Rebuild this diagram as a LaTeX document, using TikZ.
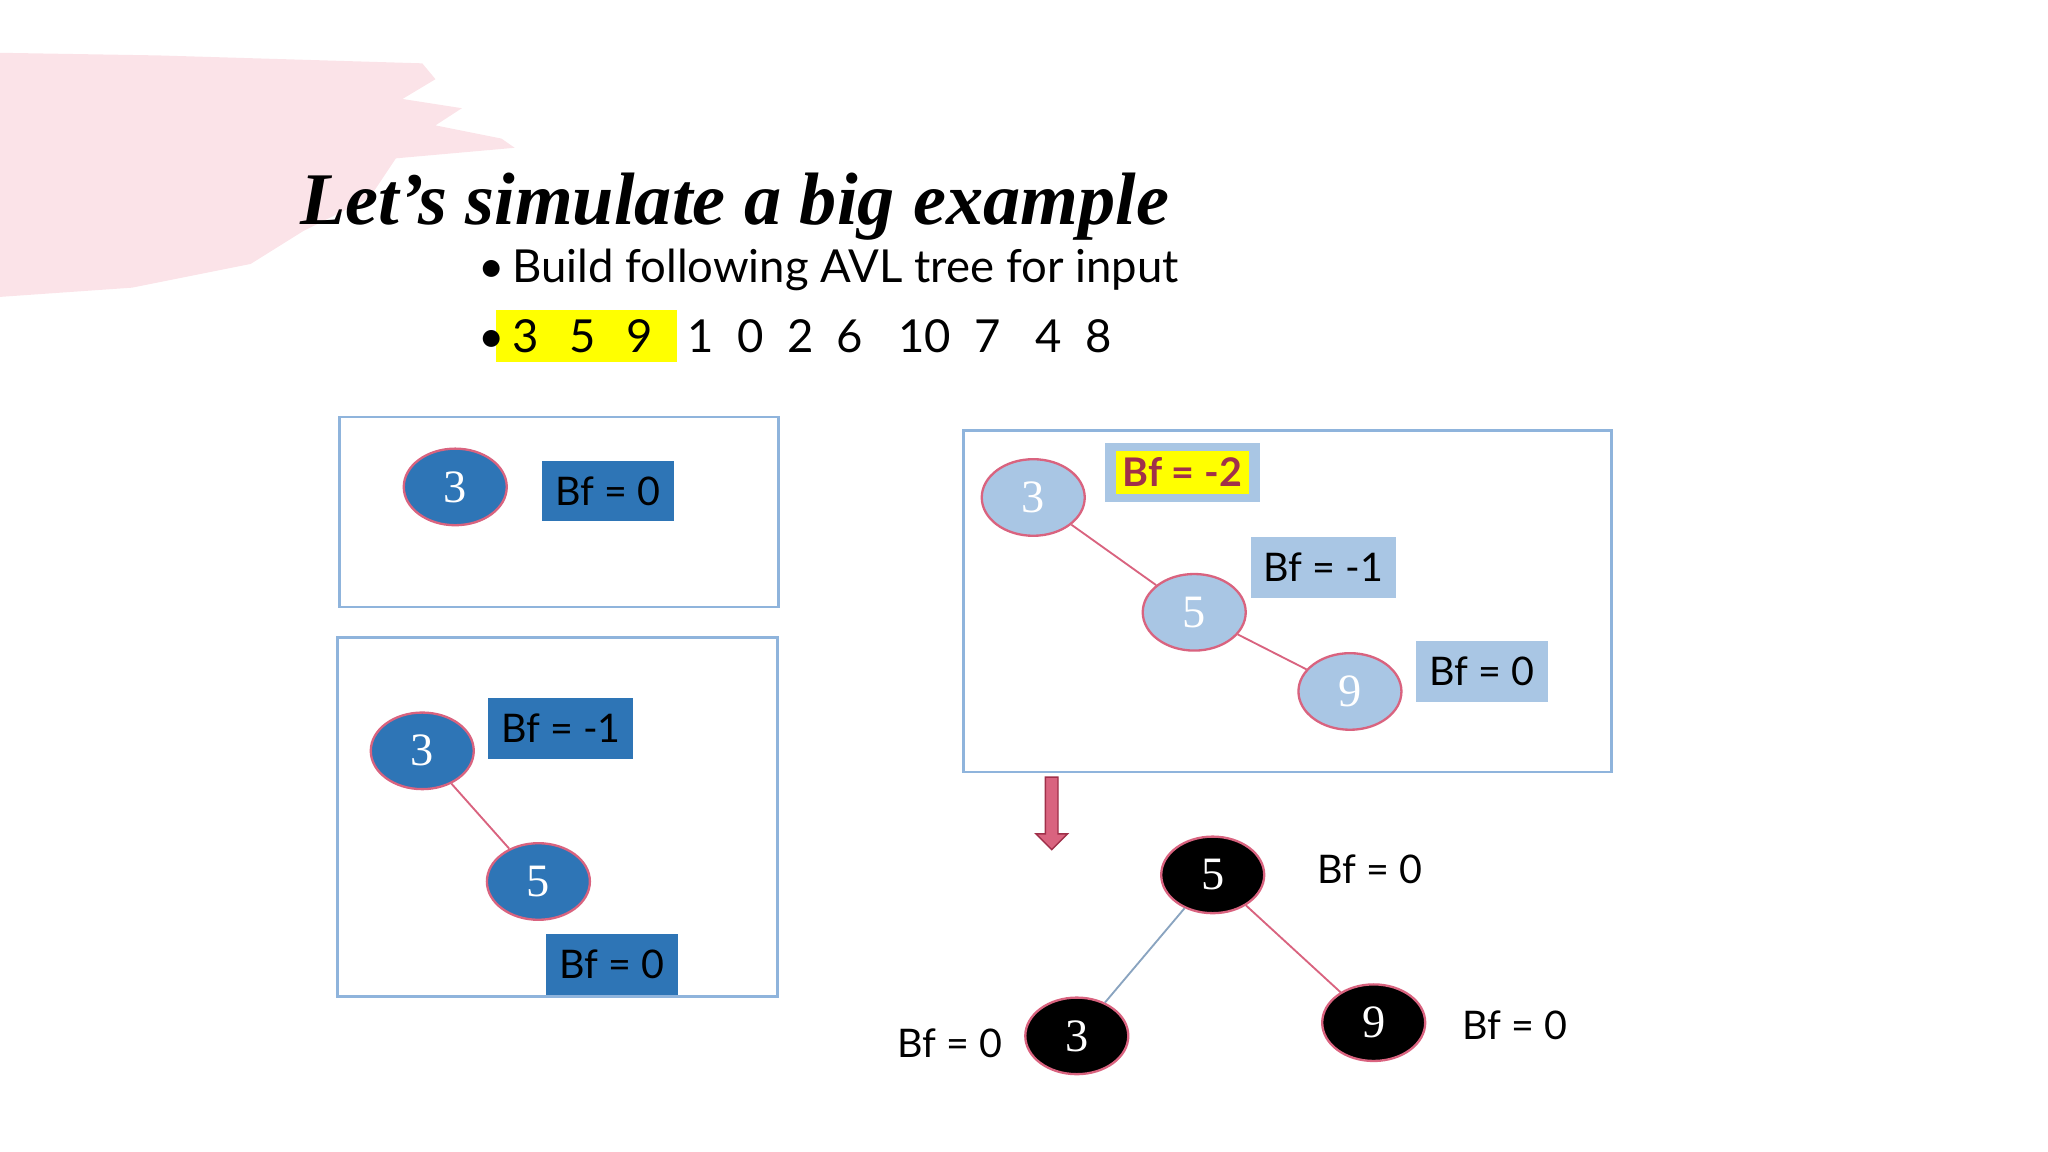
\documentclass[tikz,border=0pt]{standalone}
\usepackage{fontspec}
\setmainfont{Liberation Serif}
\newfontfamily\gothic{Lato}
\usetikzlibrary{shapes.arrows,shapes.geometric}
\definecolor{pinkbg}{HTML}{FBE3E8}
\definecolor{midblue}{HTML}{2E75B6}
\definecolor{lightblue}{HTML}{A9C6E4}
\definecolor{boxline}{HTML}{8FB4DC}
\definecolor{edgepink}{HTML}{D9637F}
\definecolor{hl}{HTML}{FFFF00}
\definecolor{bfred}{HTML}{A0304A}
\tikzset{
  frame/.style={draw=boxline, line width=0.6pt},
  nd/.style={ellipse, draw=edgepink, line width=0.5pt, minimum width=0.78cm, minimum height=0.58cm, inner sep=0pt, font=\fontsize{10}{10}\selectfont},
  dk/.style={nd, fill=midblue, text=white},
  lt/.style={nd, fill=lightblue, text=white},
  bk/.style={nd, fill=black, text=white},
  bf/.style={inner sep=0pt, font=\gothic\fontsize{8.5}{9}\selectfont},
  bfbox/.style={bf, minimum width=1cm, minimum height=0.46cm},
  edge/.style={draw=edgepink, line width=0.4pt},
}
\begin{document}
\begin{tikzpicture}[x=0.01cm,y=-0.01cm]
\useasboundingbox (0,0) rectangle (1552,873);
\fill[pinkbg] (0,40) -- (120,42) -- (320,48) -- (330,60) -- (305,75) -- (350,82) -- (330,95) -- (380,105) -- (390,112) -- (300,120) -- (280,150) -- (230,175) -- (190,200) -- (100,218) -- (0,225) -- cycle;
\node[anchor=base west, font=\bfseries\itshape\fontsize{16}{16}\selectfont] (title) at (215,170) {Let’s simulate a big example};
\node[anchor=base west, font=\gothic\fontsize{9.8}{10}\selectfont] (b1) at (350,214) {•\,Build following AVL tree for input};
\fill[hl] (376,235) rectangle (513,274);
\node[anchor=base west, font=\gothic\fontsize{9.8}{10}\selectfont] (b2) at (350,267) {•\,3\ \ \,5\ \ \,9\ \ \ 1\ \ 0\ \ 2\ \ 6\ \ \ 10\ \ 7\ \ \ 4\ \ 8};
% box 1
\draw[frame] (257,316) rectangle (590,460);
\node[dk] (a3) at (345,369) {3};
\node[bfbox, fill=midblue] (abf) at (461,372) {Bf = 0};
% box 2
\draw[frame] (256,483) rectangle (589,755);
\node[dk] (c3) at (320,569) {3};
\node[dk] (c5) at (408,668) {5};
\draw[edge] (c3) -- (c5);
\node[bfbox, minimum width=1.1cm, fill=midblue] (cbf1) at (425,552) {Bf = -1};
\node[bfbox, fill=midblue] (cbf2) at (464,731) {Bf = 0};
% box 3
\draw[frame] (730,326) rectangle (1221,585);
\node[lt] (d3) at (783,377) {3};
\node[lt] (d5) at (905,464) {5};
\node[lt] (d9) at (1023,524) {9};
\draw[edge] (d3) -- (d5);
\draw[edge] (d5) -- (d9);
\node[fill=lightblue, minimum width=1.17cm, minimum height=0.45cm] (dbf0) at (896,358) {};
\node[bf, fill=hl, text=bfred, font=\gothic\bfseries\fontsize{8.5}{9}\selectfont, inner sep=1.5pt] (dbf0t) at (dbf0) {Bf = -2};
\node[bfbox, fill=lightblue, minimum width=1.1cm] (dbf1) at (1003,430) {Bf = -1};
\node[bfbox, fill=lightblue] (dbf2) at (1123,509) {Bf = 0};
% arrow
\node[single arrow, shape border rotate=270, fill=edgepink, draw=bfred, line width=0.3pt, minimum width=0.24cm, single arrow head extend=0.04cm, minimum height=0.55cm, inner sep=0.6pt] (arr) at (797,614) {};
% result tree
\node[bk] (e5) at (919,663) {5};
\node[bk] (e3) at (816,785) {3};
\node[bk] (e9) at (1041,775) {9};
\draw[draw=boxline!70!gray, line width=0.4pt] (e5) -- (e3);
\draw[edge] (e5) -- (e9);
\node[bf] (ebf5) at (1038,659) {Bf = 0};
\node[bf] (ebf3) at (720,791) {Bf = 0};
\node[bf] (ebf9) at (1148,777) {Bf = 0};
\end{tikzpicture}
\end{document}
